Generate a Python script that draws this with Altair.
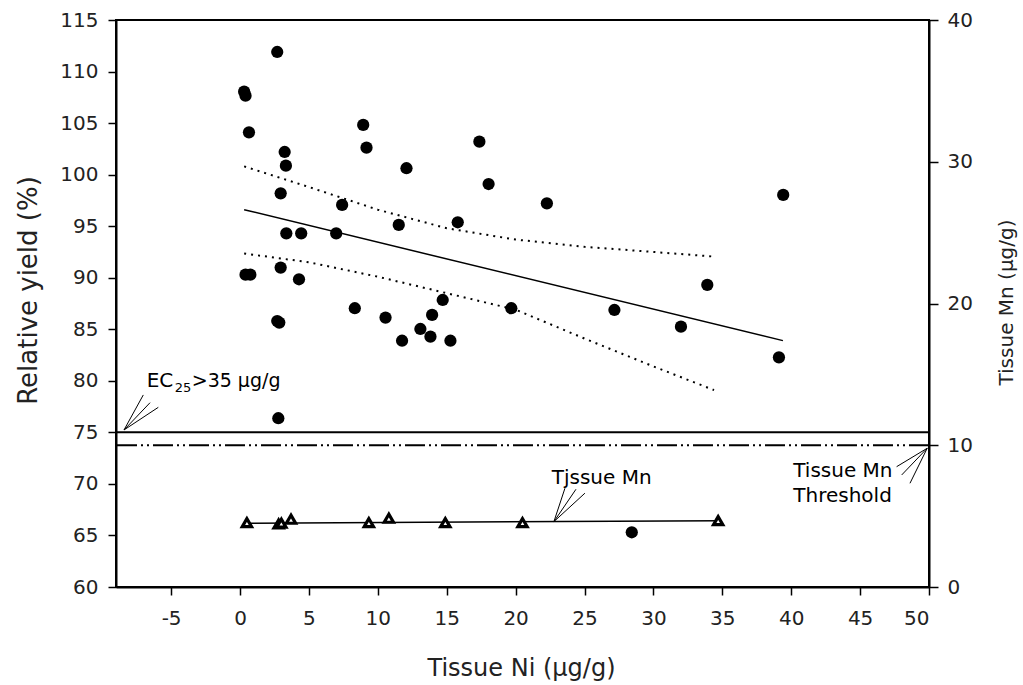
import altair as alt
import pandas as pd

# ---------------- data ----------------
# Relative yield (%) vs tissue Ni (ug/g)
ni = [0.3, 0.4, 2.7, 0.65, 3.24, 3.33, 2.95, 3.36, 4.44, 6.98, 7.41, 8.94, 9.18,
      0.4, 0.75, 2.95, 4.28, 2.7, 2.85, 8.33, 10.56, 2.78, 12.08, 17.37, 18.04,
      22.27, 11.52, 15.8, 14.71, 13.94, 13.09, 13.82, 11.76, 15.27, 19.69, 33.91,
      27.17, 32.0, 39.42, 39.11, 28.43]
rel_yield = [108.05, 107.66, 111.9, 104.1, 102.2, 100.87, 98.19, 94.31, 94.31, 94.31,
             97.06, 104.82, 102.62, 90.3, 90.3, 90.98, 89.85, 85.8, 85.65, 87.04,
             86.13, 76.37, 100.62, 103.2, 99.09, 97.22, 95.12, 95.38, 87.84, 86.39,
             85.03, 84.28, 83.89, 83.89, 87.04, 89.3, 86.87, 85.25, 98.03, 82.28, 65.31]

# regression line and its confidence band
reg_x = [0.3, 39.4]
reg_y = [96.6, 83.9]
ci_x = [0.3, 5, 10, 15, 20, 25, 30, 34.4]
ci_upper = [100.8, 98.8, 96.6, 94.8, 93.7, 93.0, 92.5, 92.05]
ci_lower = [92.35, 91.5, 90.1, 88.5, 86.9, 84.1, 81.4, 79.1]

# Tissue Mn (ug/g) vs tissue Ni (right axis)
mn_ni = [0.5, 2.8, 3.0, 3.7, 9.35, 10.8, 14.9, 20.5, 34.7]
mn_val = [4.54, 4.45, 4.5, 4.78, 4.54, 4.85, 4.54, 4.54, 4.68]
mn_fit_x = [0.5, 34.8]
mn_fit_y = [4.5, 4.68]

ec25_level = [75]
mn_threshold = [10]

x_ticks = [-5, 0, 5, 10, 15, 20, 25, 30, 35, 40, 45, 50]
left_ticks = [60, 65, 70, 75, 80, 85, 90, 95, 100, 105, 110, 115]
right_ticks = [0, 10, 20, 30, 40]

# annotation anchors (data units, left scale)
ec_text = {"x": [-6.77], "y": [79.37]}
ec_arrow = {"x": [-8.42, -8.42, -8.42], "y": [75.23, 75.23, 75.23],
            "x2": [-7.02, -6.53, -5.93], "y2": [78.63, 77.88, 77.43]}
mn_text = {"x": [22.62], "y": [70.0], "label": ["Tjssue Mn"]}
mn_arrow = {"x": [22.78, 22.78, 22.78], "y": [66.34, 66.34, 66.34],
            "x2": [23.58, 24.38, 25.03], "y2": [69.58, 69.48, 69.1]}
thr_text = {"x": [40.15, 40.15], "y": [70.7, 68.28], "label": ["Tissue Mn", "Threshold"]}
thr_arrow = {"x": [49.87, 49.87, 49.87], "y": [73.46, 73.46, 73.46],
             "x2": [47.65, 48.02, 48.62], "y2": [71.67, 70.87, 70.06]}

FONT = "DejaVu Sans"

# ---------------- scales / axes ----------------
xscale = alt.Scale(domain=[-9, 50], nice=False, zero=False)
xaxis = alt.Axis(values=x_ticks, title="Tissue Ni (µg/g)", titleFontSize=24,
                 titleFontWeight="normal", titleX=405, titleY=81,
                 titleBaseline="middle", labelPadding=13, tickSize=8,
                 labelExpr="'' + datum.value")
lscale = alt.Scale(domain=[60, 115], nice=False, zero=False)
laxis = alt.Axis(values=left_ticks, title="Relative yield (%)", titleFontSize=26,
                 titleFontWeight="normal", titleAngle=270, titleX=-88, titleY=270,
                 titleBaseline="middle", titleAlign="center", labelPadding=10, tickSize=8)
rscale = alt.Scale(domain=[0, 40], nice=False, zero=False)
raxis = alt.Axis(values=right_ticks, title="Tissue Mn (µg/g)", orient="right",
                 titleFontSize=20, titleFontWeight="normal", titleAngle=270,
                 titleX=77, titleY=282, titleBaseline="middle", titleAlign="center",
                 labelPadding=9, tickSize=9)

X = alt.X("x:Q", scale=xscale, axis=xaxis)
YL = alt.Y("y:Q", scale=lscale, axis=laxis)
YR = alt.Y("y:Q", scale=rscale, axis=raxis)

# ---------------- left-scale layers ----------------
pts = alt.Chart(pd.DataFrame({"x": ni, "y": rel_yield})).mark_circle(
    size=150, color="black", opacity=1).encode(x=X, y=YL)

reg = alt.Chart(pd.DataFrame({"x": reg_x, "y": reg_y})).mark_line(
    color="black", strokeWidth=1.5).encode(x=X, y=YL)

ci_df = pd.DataFrame({
    "x": ci_x + ci_x,
    "y": ci_upper + ci_lower,
    "band": ["upper"] * len(ci_x) + ["lower"] * len(ci_x),
})
ci = alt.Chart(ci_df).mark_line(color="black", strokeWidth=2, strokeDash=[2, 5]).encode(
    x=X, y=YL, detail="band:N")

ec_rule = alt.Chart(pd.DataFrame({"y": ec25_level})).mark_rule(
    color="black", strokeWidth=2).encode(y=YL)

def arrows(d):
    return alt.Chart(pd.DataFrame(d)).mark_rule(color="black", strokeWidth=1).encode(
        x=X, y=YL, x2="x2:Q", y2="y2:Q")

def texts(d, **kw):
    return alt.Chart(pd.DataFrame(d)).mark_text(
        align="left", baseline="alphabetic", font=FONT, color="black", **kw).encode(
        x=X, y=YL, text="label:N")

ec_df = dict(ec_text)
ec_main = alt.Chart(pd.DataFrame({**ec_df, "label": ["EC"]})).mark_text(
    align="left", baseline="alphabetic", font=FONT, fontSize=20, color="black").encode(
    x=X, y=YL, text="label:N")
ec_sub = alt.Chart(pd.DataFrame({**ec_df, "label": ["25"]})).mark_text(
    align="left", baseline="alphabetic", font=FONT, fontSize=13, color="black",
    dx=28, dy=5).encode(x=X, y=YL, text="label:N")
ec_rest = alt.Chart(pd.DataFrame({**ec_df, "label": [">35 µg/g"]})).mark_text(
    align="left", baseline="alphabetic", font=FONT, fontSize=19, color="black",
    dx=45).encode(x=X, y=YL, text="label:N")

left = alt.layer(
    ci, reg, ec_rule, pts,
    arrows(ec_arrow), arrows(mn_arrow), arrows(thr_arrow),
    ec_main, ec_sub, ec_rest,
    texts(mn_text, fontSize=20), texts(thr_text, fontSize=20),
)

# ---------------- right-scale layers ----------------
mn_fit = alt.Chart(pd.DataFrame({"x": mn_fit_x, "y": mn_fit_y})).mark_line(
    color="black", strokeWidth=1.5).encode(x=X, y=YR)
mn_pts = alt.Chart(pd.DataFrame({"x": mn_ni, "y": mn_val})).mark_point(
    shape="triangle-up", size=85, filled=True, fill="white", stroke="black",
    strokeWidth=3.2, opacity=1).encode(x=X, y=YR)
thr_rule = alt.Chart(pd.DataFrame({"y": mn_threshold})).mark_rule(
    color="black", strokeWidth=2, strokeDash=[20, 4, 2, 4, 2, 4]).encode(y=YR)

right = alt.layer(thr_rule, mn_fit, mn_pts)

chart = alt.layer(left, right).resolve_scale(y="independent").properties(
    width=813, height=567,
    background="white",
    autosize=alt.AutoSizeParams(type="none"),
    padding={"left": 116, "top": 20, "right": 94, "bottom": 98},
).configure_view(stroke="black", strokeWidth=2).configure_axis(
    grid=False, labelFont=FONT, labelFontSize=20, labelColor="#222",
    titleFont=FONT, titleColor="#222", domainColor="black", domainWidth=2,
    tickColor="black", tickWidth=1.5,
)

chart.save("out.html", embed_options={"renderer": "svg", "actions": False})
